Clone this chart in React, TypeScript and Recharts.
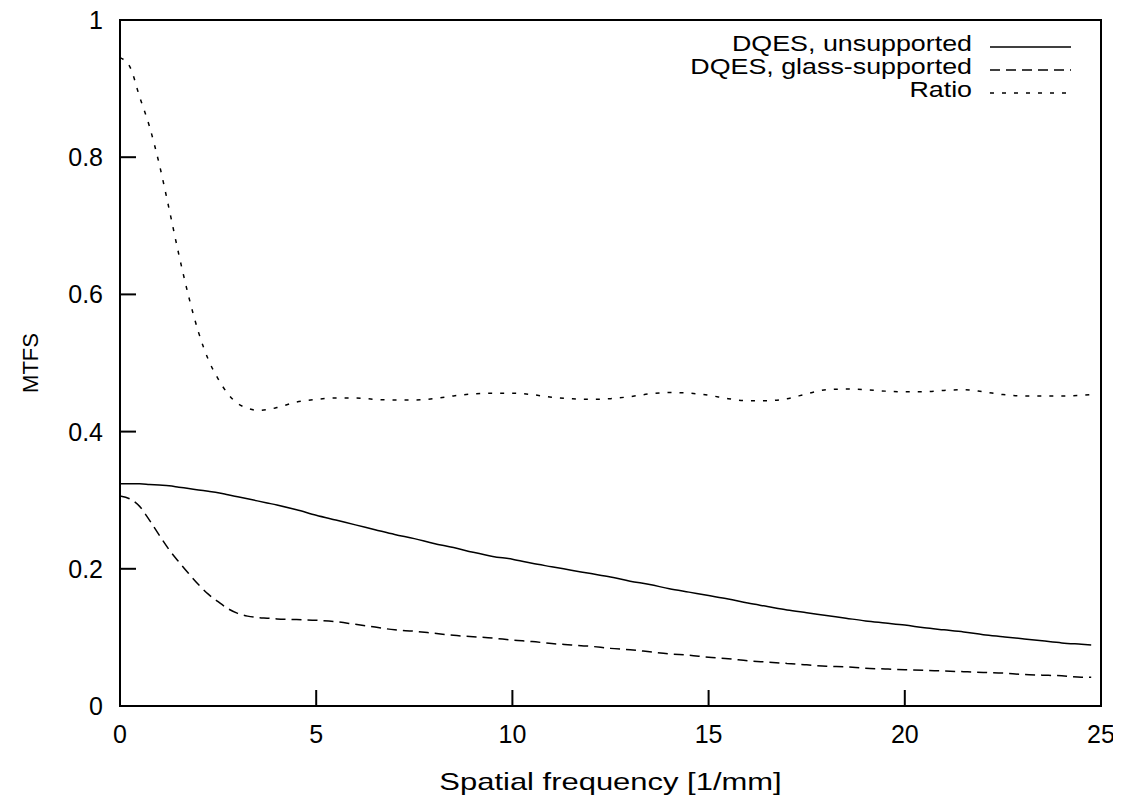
import React from 'react';
import { LineChart, Line, XAxis, YAxis, ReferenceArea, Legend, Label } from 'recharts';

const freq = [0, 0.25, 0.5, 0.75, 1, 1.25, 1.5, 1.75, 2, 2.25, 2.5, 2.75, 3, 3.25, 3.5, 3.75, 4, 4.5, 5, 5.5, 6, 6.5, 7, 7.5, 8, 8.5, 9, 9.5, 10, 10.5, 11, 11.5, 12, 12.5, 13, 13.5, 14, 14.5, 15, 15.5, 16, 16.5, 17, 17.5, 18, 18.5, 19, 19.5, 20, 20.5, 21, 21.5, 22, 22.5, 23, 23.5, 24, 24.5, 24.75];

const unsupported = [0.324, 0.324, 0.324, 0.323, 0.322, 0.321, 0.319, 0.317, 0.315, 0.313, 0.311, 0.308, 0.305, 0.302, 0.299, 0.296, 0.293, 0.286, 0.278, 0.271, 0.264, 0.257, 0.250, 0.244, 0.237, 0.231, 0.224, 0.218, 0.214, 0.208, 0.203, 0.198, 0.193, 0.188, 0.182, 0.177, 0.171, 0.166, 0.161, 0.156, 0.150, 0.145, 0.140, 0.136, 0.132, 0.128, 0.124, 0.121, 0.118, 0.114, 0.111, 0.108, 0.104, 0.101, 0.098, 0.095, 0.092, 0.090, 0.089];

const glassSupported = [0.306, 0.302, 0.291, 0.271, 0.249, 0.228, 0.210, 0.193, 0.177, 0.163, 0.152, 0.142, 0.135, 0.131, 0.129, 0.128, 0.127, 0.126, 0.125, 0.123, 0.119, 0.115, 0.111, 0.109, 0.106, 0.103, 0.101, 0.099, 0.096, 0.094, 0.091, 0.089, 0.087, 0.084, 0.082, 0.079, 0.076, 0.074, 0.071, 0.069, 0.066, 0.064, 0.062, 0.060, 0.058, 0.057, 0.055, 0.054, 0.053, 0.052, 0.051, 0.050, 0.049, 0.048, 0.046, 0.045, 0.044, 0.042, 0.042];

const ratio = [0.945, 0.932, 0.888, 0.845, 0.790, 0.725, 0.658, 0.597, 0.545, 0.505, 0.477, 0.455, 0.441, 0.434, 0.431, 0.432, 0.435, 0.443, 0.447, 0.449, 0.449, 0.447, 0.446, 0.446, 0.448, 0.452, 0.455, 0.456, 0.456, 0.454, 0.450, 0.448, 0.447, 0.448, 0.451, 0.455, 0.457, 0.456, 0.453, 0.448, 0.445, 0.445, 0.448, 0.455, 0.461, 0.462, 0.461, 0.459, 0.458, 0.458, 0.460, 0.461, 0.458, 0.454, 0.452, 0.452, 0.452, 0.453, 0.454];

const xTicks = [0, 5, 10, 15, 20, 25];
const yTicks = [0, 0.2, 0.4, 0.6, 0.8, 1];

const seriesNames = ['DQES, unsupported', 'DQES, glass-supported', 'Ratio'];
const seriesDash = ['0', '10 6', '4 8'];
const seriesKeys = ['unsupported', 'glass', 'ratio'];

const data = freq.map((x, i) => ({
  x,
  unsupported: unsupported[i],
  glass: glassSupported[i],
  ratio: ratio[i],
}));

const FONT = '"Liberation Sans", Arial, sans-serif';
const FS = 25;
const LFS = 22;
const LSX = 1.22;

const XTick = (props: any) => {
  const { x, y, payload } = props;
  return (
    <g>
      <line x1={x} y1={y} x2={x} y2={y - 16} stroke="#000" strokeWidth={2} />
      <text x={x} y={y + 37} textAnchor="middle" fontFamily={FONT} fontSize={FS} fill="#000">
        {String(payload.value)}
      </text>
    </g>
  );
};

const YTick = (props: any) => {
  const { x, y, payload } = props;
  return (
    <g>
      <line x1={x} y1={y} x2={x + 16} y2={y} stroke="#000" strokeWidth={2} />
      <text x={x - 17} y={y + 9} textAnchor="end" fontFamily={FONT} fontSize={FS} fill="#000">
        {String(Math.round(payload.value * 10) / 10)}
      </text>
    </g>
  );
};

const LegendContent = () => {
  return (
    <svg width={420} height={90} style={{ display: 'block', overflow: 'visible' }}>
      {seriesNames.map((name, i) => (
        <g key={name}>
          <text x={0} y={0} transform={`translate(292 ${21 + i * 23}) scale(${LSX} 1)`} textAnchor="end" fontFamily={FONT} fontSize={LFS} fill="#000">
            {name}
          </text>
          <line x1={310} x2={391} y1={17 + i * 23} y2={17 + i * 23} stroke="#000" strokeWidth={1.5}
            strokeDasharray={seriesDash[i] === '0' ? undefined : seriesDash[i]} />
        </g>
      ))}
    </svg>
  );
};

export default function App() {
  return (
    <div style={{ width: 1113, height: 796, marginTop: -8, background: '#fff' }}>
      <LineChart width={1113} height={796} data={data} margin={{ top: 20, right: 20, left: 0, bottom: 0 }}>
        <XAxis
          dataKey="x"
          type="number"
          domain={[0, 25]}
          ticks={xTicks}
          allowDataOverflow
          axisLine={false}
          tickLine={false}
          tickSize={0}
          tickMargin={0}
          height={90}
          tick={<XTick />}
          interval={0}
        >
          <Label
            content={({ viewBox }: any) => (
              <text x={0} y={0} transform={`translate(${viewBox.x + viewBox.width / 2} ${viewBox.y + 84}) scale(1.29 1)`} textAnchor="middle" fontFamily={FONT} fontSize={24} fill="#000">
                Spatial frequency [1/mm]
              </text>
            )}
          />
        </XAxis>
        <YAxis
          type="number"
          domain={[0, 1]}
          ticks={yTicks}
          allowDataOverflow
          axisLine={false}
          tickLine={false}
          tickSize={0}
          tickMargin={0}
          width={112}
          tick={<YTick />}
          interval={0}
        >
          <Label
            content={({ viewBox }: any) => {
              const cx = 22;
              const cy = viewBox.y + viewBox.height / 2;
              return (
                <text x={cx} y={cy} transform={`rotate(-90 ${cx} ${cy})`} textAnchor="middle" dominantBaseline="central" fontFamily={FONT} fontSize={22} fill="#000">
                  MTFS
                </text>
              );
            }}
          />
        </YAxis>
        <ReferenceArea x1={0} x2={25} y1={0} y2={1} fill="none" fillOpacity={0} stroke="#000" strokeWidth={2} ifOverflow="visible" />
        {seriesKeys.map((k, i) => (
          <Line
            key={k}
            dataKey={k}
            name={seriesNames[i]}
            type="monotone"
            stroke="#000"
            strokeWidth={1.5}
            strokeDasharray={seriesDash[i] === '0' ? undefined : seriesDash[i]}
            dot={false}
            activeDot={false}
            isAnimationActive={false}
          />
        ))}
        <Legend
          layout="vertical"
          align="center"
          verticalAlign="middle"
          content={<LegendContent />}
          wrapperStyle={{ position: 'absolute', left: 672, top: 30, width: 420, height: 90 }}
        />
      </LineChart>
    </div>
  );
}
